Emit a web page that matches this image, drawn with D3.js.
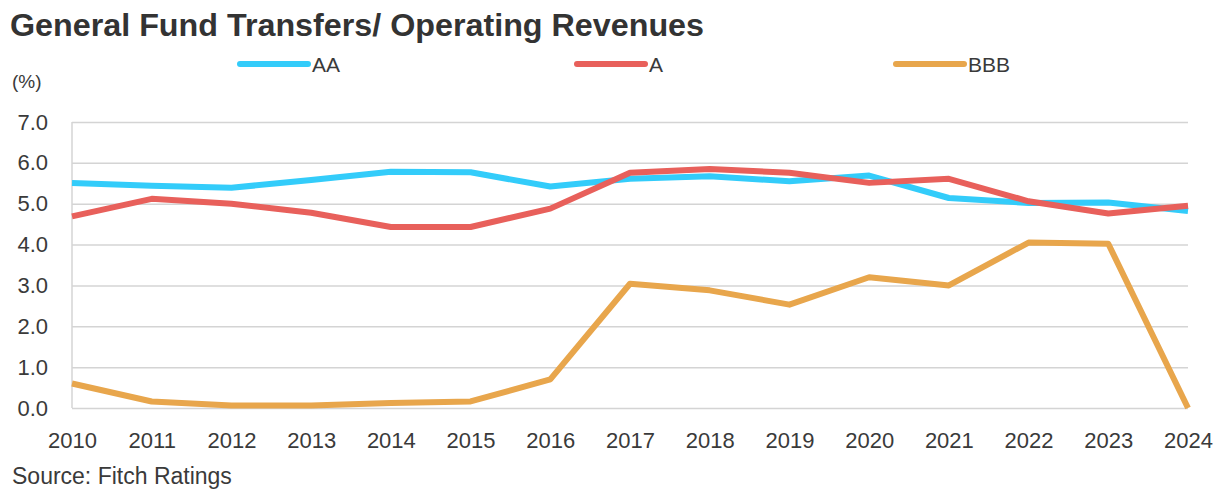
<!DOCTYPE html>
<html>
<head>
<meta charset="utf-8">
<script src="https://cdn.jsdelivr.net/npm/d3@7"></script>
<style>
  html, body { margin: 0; padding: 0; background: #fff; }
  svg { display: block; font-family: "Liberation Sans", Arial, sans-serif; }
</style>
</head>
<body>
<svg id="chart" width="1217" height="489"></svg>
<script>
// ── Data ───────────────────────────────────────────────────────────────────
const years = ['2010', '2011', '2012', '2013', '2014', '2015', '2016', '2017',
    '2018', '2019', '2020', '2021', '2022', '2023', '2024'];
const aa = [5.51, 5.44, 5.39, 5.58, 5.78, 5.77, 5.42, 5.61, 5.67, 5.55, 5.69, 5.14, 5.02, 5.03, 4.82];
const a = [4.69, 5.12, 5.0, 4.78, 4.43, 4.43, 4.88, 5.76, 5.85, 5.76, 5.51, 5.61, 5.06, 4.76, 4.95];
const bbb = [0.6, 0.16, 0.06, 0.06, 0.12, 0.16, 0.70, 3.04, 2.88, 2.53, 3.2, 3.0, 4.05, 4.02, 0.0];
const yTicks = [0, 1, 2, 3, 4, 5, 6, 7];

const series = [
    { name: 'AA', values: aa, color: '#33CCFA', lx: 240 },
    { name: 'A', values: a, color: '#E8605B', lx: 577 },
    { name: 'BBB', values: bbb, color: '#E8A64C', lx: 896 }
];

const TEXT = '#3a3a3a';
const GRID = '#d4d4d4';
const FONT = '"Liberation Sans", Arial, sans-serif';
const M = { top: 122, right: 29, bottom: 81, left: 72 };
const W = 1217, H = 489;
const iW = W - M.left - M.right;
const iH = H - M.top - M.bottom;

const svg = d3.select('#chart');

// ── Title / labels ─────────────────────────────────────────────────────────
svg.append('text')
    .attr('x', 10).attr('y', 36)
    .attr('font-size', 32).attr('font-weight', 'bold')
    .attr('fill', '#333')
    .attr('textLength', 694)
    .attr('lengthAdjust', 'spacingAndGlyphs')
    .text('General Fund Transfers/ Operating Revenues');

svg.append('text')
    .attr('x', 12).attr('y', 88)
    .attr('font-size', 19).attr('fill', TEXT)
    .text('(%)');

svg.append('text')
    .attr('x', 12).attr('y', 484)
    .attr('font-size', 23).attr('fill', TEXT)
    .text('Source: Fitch Ratings');

// ── Scales ─────────────────────────────────────────────────────────────────
const x = d3.scalePoint().domain(years).range([0, iW]);
const y = d3.scaleLinear().domain([0, 7]).range([iH, 0]);

const g = svg.append('g').attr('transform', `translate(${M.left},${M.top})`);

// gridlines
g.append('g')
    .call(d3.axisLeft(y).tickValues(yTicks).tickSize(-iW).tickFormat(''))
    .call(sg => {
        sg.select('.domain').remove();
        sg.selectAll('.tick line').attr('stroke', GRID).attr('stroke-width', 1.5);
    });

// left axis line
g.append('line')
    .attr('x1', 0).attr('x2', 0).attr('y1', 0).attr('y2', iH)
    .attr('stroke', GRID).attr('stroke-width', 1.5);

// y labels
g.append('g')
    .call(d3.axisLeft(y).tickValues(yTicks).tickSize(0).tickPadding(24).tickFormat(d3.format('.1f')))
    .call(sg => {
        sg.select('.domain').remove();
        sg.selectAll('.tick text')
            .attr('fill', TEXT).attr('font-size', 22)
            .attr('font-family', FONT);
    });

// x labels
g.append('g')
    .attr('transform', `translate(0,${iH})`)
    .call(d3.axisBottom(x).tickSize(0).tickPadding(24))
    .call(sg => {
        sg.select('.domain').remove();
        sg.selectAll('.tick text')
            .attr('fill', TEXT).attr('font-size', 22)
            .attr('font-family', FONT);
    });

// ── Lines ──────────────────────────────────────────────────────────────────
const line = d3.line()
    .x((d, i) => x(years[i]))
    .y(d => y(d));

series.forEach(s => {
    g.append('path')
        .datum(s.values)
        .attr('fill', 'none')
        .attr('stroke', s.color)
        .attr('stroke-width', 6)
        .attr('stroke-linejoin', 'round')
        .attr('d', line);
});

// ── Legend ─────────────────────────────────────────────────────────────────
const legend = svg.append('g');
series.forEach(s => {
    legend.append('line')
        .attr('x1', s.lx).attr('x2', s.lx + 68)
        .attr('y1', 64).attr('y2', 64)
        .attr('stroke', s.color).attr('stroke-width', 6)
        .attr('stroke-linecap', 'round');
    legend.append('text')
        .attr('x', s.lx + 72).attr('y', 72)
        .attr('font-size', 21).attr('fill', TEXT)
        .text(s.name);
});
</script>
</body>
</html>
